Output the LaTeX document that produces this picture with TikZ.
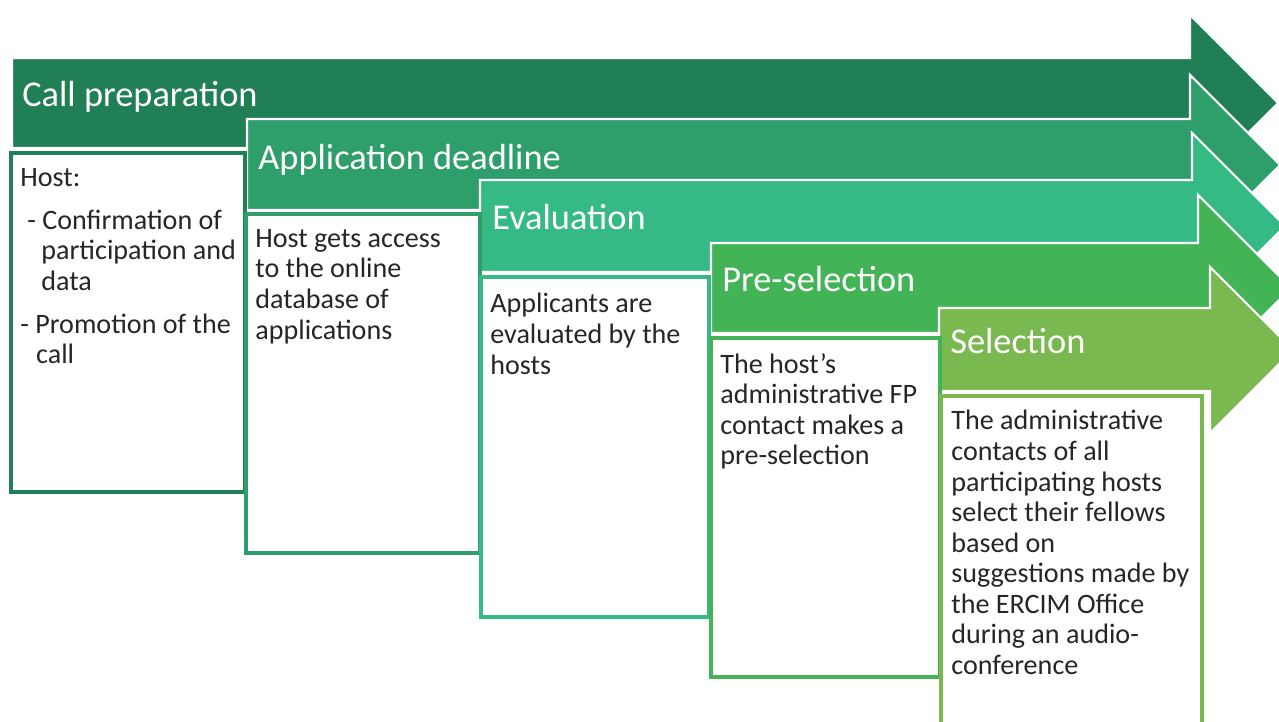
\documentclass[tikz,border=0pt]{standalone}
\usepackage{fontspec}
\setmainfont{Carlito}
\usepackage{tikz}
\definecolor{gA}{RGB}{33,127,85}
\definecolor{gB}{RGB}{46,158,106}
\definecolor{gC}{RGB}{53,186,134}
\definecolor{gD}{RGB}{67,180,86}
\definecolor{gE}{RGB}{122,184,80}
\tikzstyle{stage}=[draw=white,line width=1.2pt]
\tikzstyle{panel}=[fill=white,line width=2.1pt]
\tikzstyle{head}=[font=\fontsize{20.7}{24}\selectfont,text=white,inner sep=0pt,anchor=north west]
\tikzstyle{body}=[font=\fontsize{16}{17.4}\selectfont,text=black!85,inner sep=0pt,anchor=north west,align=left]

\begin{document}
\begin{tikzpicture}[x=0.02cm,y=-0.02cm]
\useasboundingbox (0,0) rectangle (1279,722);
\clip (0,0) rectangle (1279,722);
% the five stages
\filldraw[stage,fill=gA] (12,58) -- (1190,58) -- (1190,15) -- (1278,103) -- (1190,191) -- (1190,148) -- (12,148) -- cycle;
\filldraw[stage,fill=gB] (247,119) -- (1190,119) -- (1190,75) -- (1280,165) -- (1190,255) -- (1190,210) -- (247,210) -- cycle;
\filldraw[stage,fill=gC] (480,180) -- (1192,180) -- (1192,133) -- (1285,226) -- (1192,319) -- (1192,272) -- (480,272) -- cycle;
\filldraw[stage,fill=gD] (711,243) -- (1198,243) -- (1198,195) -- (1291,288) -- (1198,381) -- (1198,333) -- (711,333) -- cycle;
\filldraw[stage,fill=gE] (939,308) -- (1210,308) -- (1210,267) -- (1293,350) -- (1210,433) -- (1210,391) -- (939,391) -- cycle;
% the boxes under them
\draw[panel,draw=gA] (11,153) rectangle (245,492);
\draw[panel,draw=gB] (246,214) rectangle (480,553);
\draw[panel,draw=gC] (481,277) rectangle (709,617);
\draw[panel,draw=gD] (711,338) rectangle (940,677);
\draw[panel,draw=gE] (941,396) rectangle (1202,740);
% titles
\node[head] (A) at (22,81) {Call preparation};
\node[head] (B) at (258,144) {Application deadline};
\node[head] (C) at (492,204) {Evaluation};
\node[head] (D) at (722,266) {Pre-selection};
\node[head] (E) at (950,328) {Selection};
% texts
\node[body] (F) at (20,168) {Host:\\[7pt]
\hspace*{4pt}- Confirmation of\\
\hspace*{12pt}participation and\\
\hspace*{12pt}data\\[7pt]
- Promotion of the\\
\hspace*{9pt}call};
\node[body] (G) at (255,229) {Host gets access\\to the online\\database of\\applications};
\node[body] (H) at (490,293) {Applicants are\\evaluated by the\\hosts};
\node[body] (I) at (720,353) {The host’s\\administrative FP\\contact makes a\\pre-selection};
\node[body] (J) at (951,410) {The administrative\\contacts of all\\participating hosts\\select their fellows\\based on\\suggestions made by\\the ERCIM Office\\during an audio-\\conference};
\end{tikzpicture}
\end{document}
